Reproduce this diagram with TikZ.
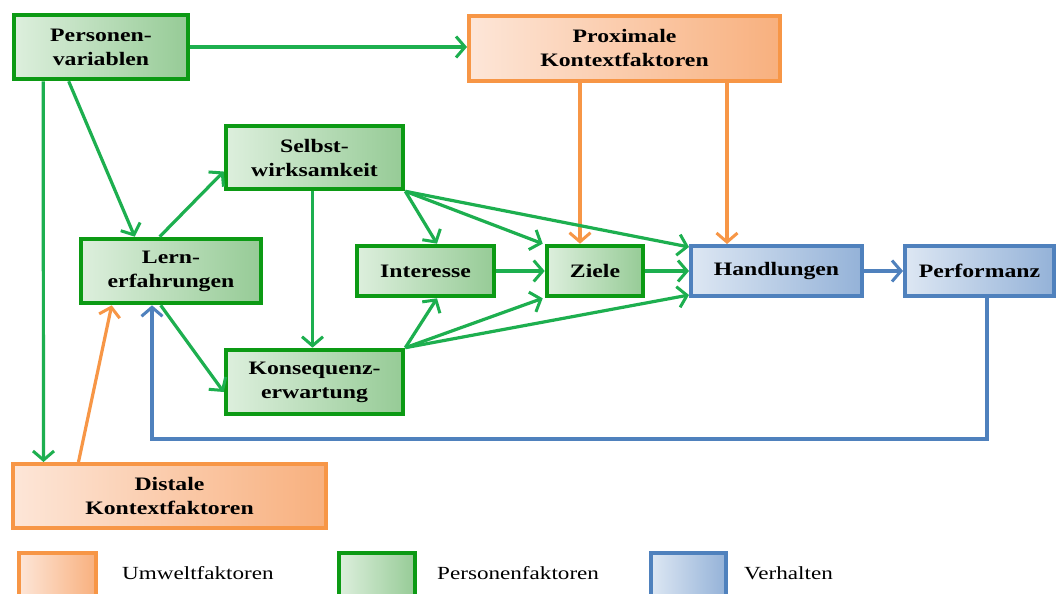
\documentclass[tikz,border=0pt]{standalone}
\usepackage{fontspec}
\setmainfont{Liberation Serif}[FakeStretch=1.25]
\usetikzlibrary{arrows.meta,calc}
\definecolor{gbord}{HTML}{0C9A14}
\definecolor{garr}{HTML}{1DAF4F}
\definecolor{gl}{HTML}{DDEFDD}
\definecolor{gr}{HTML}{96CB96}
\definecolor{obord}{HTML}{F79646}
\definecolor{ol}{HTML}{FDE6D8}
\definecolor{or}{HTML}{F8B07E}
\definecolor{bbord}{HTML}{4F81BD}
\definecolor{bl}{HTML}{DDE7F3}
\definecolor{br}{HTML}{94B2D8}
\tikzset{
  box/.style={rectangle, align=center, inner sep=0pt,
    font=\fontsize{19}{24}\selectfont\bfseries},
  gbox/.style={box, draw=gbord, line width=4.6pt, left color=gl, right color=gr},
  obox/.style={box, draw=obord, line width=4pt, left color=ol, right color=or},
  bbox/.style={box, draw=bbord, line width=4pt, left color=bl, right color=br},
  tip/.style={-{Straight Barb[length=9pt,width=21pt,line width=3pt]}},
  ga/.style={tip, draw=garr, line width=3.2pt},
  oa/.style={tip, draw=obord, line width=3.2pt},
  ba/.style={tip, draw=bbord, line width=3.2pt},
  leg/.style={anchor=west, inner sep=0pt, font=\fontsize{18.5}{22}\selectfont}
}
\begin{document}
\begin{tikzpicture}[x=1pt,y=-1pt]
\clip (0,0) rectangle (1058,594);
\fill[white] (0,0) rectangle (1058,594);
% nodes
\node[gbox, minimum width=174pt, minimum height=64pt] (pv) at (101,47) {Personen-\\variablen};
\node[obox, minimum width=311pt, minimum height=65pt] (prox) at (624.5,48.5) {Proximale\\Kontextfaktoren};
\node[gbox, minimum width=177pt, minimum height=63pt] (sw) at (314.5,157.5) {Selbst-\\wirksamkeit};
\node[gbox, minimum width=180pt, minimum height=64pt] (le) at (171,271) {Lern-\\erfahrungen};
\node[gbox, minimum width=137pt, minimum height=50pt] (int) at (425.5,271) {Interesse};
\node[gbox, minimum width=96pt, minimum height=50pt] (zi) at (595,271) {Ziele};
\node[bbox, minimum width=171pt, minimum height=50pt] (ha) at (776.5,271) {Handlungen};
\node[bbox, minimum width=149pt, minimum height=50pt] (pe) at (979.5,271) {Performanz};
\node[gbox, minimum width=177pt, minimum height=64pt] (ke) at (314.5,382) {Konsequenz-\\erwartung};
\node[obox, minimum width=313pt, minimum height=64pt] (di) at (169.5,496) {Distale\\Kontextfaktoren};
% legend
\node[obox, minimum width=77pt, minimum height=70pt] (lo) at (57.5,588) {};
\node[gbox, minimum width=76pt, minimum height=70pt] (lg) at (377,588) {};
\node[bbox, minimum width=75pt, minimum height=70pt] (lb) at (688.5,588) {};
\node[leg] (lot) at (122,573) {Umweltfaktoren};
\node[leg] (lgt) at (437,573) {Personenfaktoren};
\node[leg] (lbt) at (744,573) {Verhalten};
% connectors
\draw[ga] (pv.east) -- (prox.west |- pv.east);
\draw[ga] ([xshift=31.5pt]pv.south west) -- ([xshift=32.5pt]di.north west);
\draw[ga] ([xshift=57pt]pv.south west) -- ([xshift=56pt]le.north west);
\draw[ga] ([xshift=81pt]le.north west) -- ([yshift=-14pt]sw.west);
\draw[ga] ([xshift=82pt]le.south west) -- ([yshift=-10pt]ke.west);
\draw[oa] ([xshift=67.5pt]di.north west) -- ([xshift=33pt]le.south west);
\coordinate (fbl) at (152,439);
\draw[ba] ([xshift=7.5pt]pe.south) |- (fbl) -- ([xshift=-19pt]le.south);
\draw[oa] ([xshift=-44.5pt]prox.south) -- ([xshift=-44.5pt]prox.south |- zi.north);
\draw[oa] ([xshift=102.5pt]prox.south) -- ([xshift=102.5pt]prox.south |- ha.north);
\draw[ga] ([xshift=-2pt]sw.south) -- ([xshift=-2pt]ke.north);
\draw[ga] (sw.south east) -- ([xshift=11.5pt]int.north);
\draw[ga] (sw.south east) -- ([xshift=-2pt]zi.north west);
\draw[ga] (sw.south east) -- ([yshift=-3pt]ha.north west);
\draw[ga] (ke.north east) -- ([xshift=11.5pt]int.south);
\draw[ga] (ke.north east) -- ([xshift=-2pt]zi.south west);
\draw[ga] (ke.north east) -- ([yshift=3pt]ha.south west);
\draw[ga] (int.east) -- (zi.west);
\draw[ga] (zi.east) -- (ha.west);
\draw[ba] (ha.east) -- (pe.west);
\end{tikzpicture}
\end{document}
